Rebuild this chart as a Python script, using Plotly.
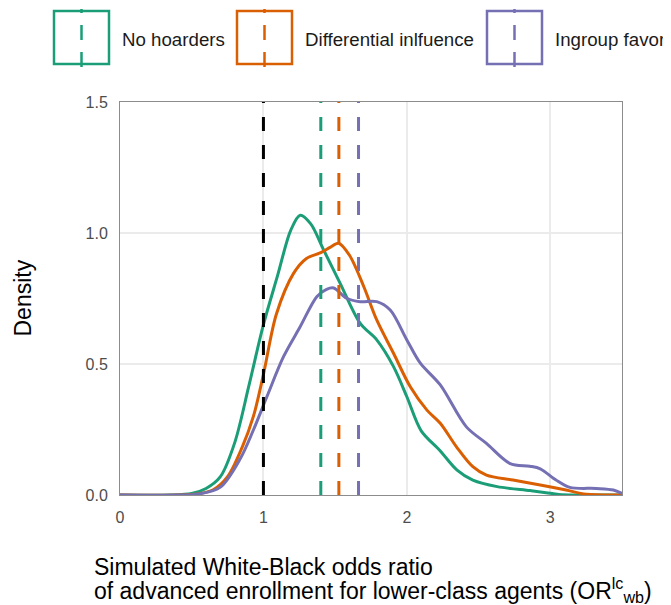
import plotly.graph_objects as go

# ---------------- data ----------------
series_names = ["No hoarders", "Differential inlfuence", "Ingroup favoritism"]
series_colors = ["#1b9e77", "#d95f02", "#7570b3"]

green_x = [0, 0.35, 0.5, 0.6, 0.7, 0.8, 0.9, 1.0, 1.1, 1.19, 1.256, 1.33, 1.42, 1.535,
           1.675, 1.79, 1.907, 2.0, 2.1, 2.23, 2.35, 2.46, 2.63, 2.86, 2.97, 3.06, 3.2, 3.5]
green_y = [0, 0.0, 0.006, 0.025, 0.07, 0.2, 0.42, 0.65, 0.84, 1.01, 1.068, 1.035, 0.935, 0.808,
           0.655, 0.592, 0.49, 0.375, 0.245, 0.17, 0.095, 0.057, 0.032, 0.017, 0.009, 0.002, 0.0, 0.0]

orange_x = [0, 0.4, 0.55, 0.65, 0.75, 0.85, 0.93, 1.0, 1.09, 1.21, 1.3, 1.4, 1.465, 1.524,
            1.6, 1.7, 1.79, 1.907, 2.024, 2.14, 2.233, 2.346, 2.46, 2.555, 2.74, 2.93, 3.11, 3.25, 3.5]
orange_y = [0, 0.0, 0.005, 0.02, 0.07, 0.18, 0.3, 0.46, 0.69, 0.846, 0.903, 0.925, 0.945, 0.961,
            0.915, 0.795, 0.668, 0.541, 0.413, 0.324, 0.274, 0.184, 0.108, 0.076, 0.057, 0.038, 0.019, 0.003, 0.0]

purple_x = [0, 0.4, 0.55, 0.7, 0.84, 0.93, 1.024, 1.14, 1.256, 1.372, 1.44, 1.49, 1.58, 1.675,
            1.79, 1.884, 2.0, 2.094, 2.233, 2.415, 2.555, 2.72, 2.857, 2.93, 3.04, 3.136, 3.32, 3.44, 3.5]
purple_y = [0, 0.0, 0.004, 0.03, 0.14, 0.248, 0.375, 0.528, 0.642, 0.757, 0.785, 0.79, 0.751, 0.738,
            0.738, 0.706, 0.592, 0.503, 0.42, 0.26, 0.197, 0.12, 0.11, 0.10, 0.057, 0.029, 0.025, 0.019, 0.006]

series_x = [green_x, orange_x, purple_x]
series_y = [green_y, orange_y, purple_y]

reference_line = 1.0
series_means = [1.40, 1.526, 1.663]

x_ticks = [0, 1, 2, 3]
x_ticklabels = ["0", "1", "2", "3"]
y_ticks = [0.0, 0.5, 1.0, 1.5]
y_ticklabels = ["0.0", "0.5", "1.0", "1.5"]

FONT = "Liberation Sans, Arial, sans-serif"

# ---------------- figure ----------------
# the page body adds an 8px margin, so the figure is shrunk and shifted by 8px
OFF = 8
W, H = 671 - OFF, 605 - OFF
PLOT_L, PLOT_T, PLOT_R, PLOT_B = 120, 102, 622, 495   # target pixel box in the window
ML, MT = PLOT_L - OFF, PLOT_T - OFF
MR, MB = 671 - PLOT_R, 605 - PLOT_B
PW, PH = PLOT_R - PLOT_L, PLOT_B - PLOT_T


def px2paper_x(px):
    return (px - PLOT_L) / PW


def px2paper_y(py):
    return (PLOT_B - py) / PH


fig = go.Figure()

for name, xs, ys, col in zip(series_names, series_x, series_y, series_colors):
    fig.add_trace(go.Scatter(x=xs, y=ys, mode="lines", name=name,
                             line=dict(color=col, width=3, shape="spline", smoothing=0.9),
                             showlegend=False, hoverinfo="skip"))

# vertical reference + mean lines
fig.add_trace(go.Scatter(x=[reference_line, reference_line], y=[0, 1.5], mode="lines",
                         line=dict(color="black", width=3, dash="14px,14px"),
                         showlegend=False, hoverinfo="skip"))
for m, col in zip(series_means, series_colors):
    fig.add_trace(go.Scatter(x=[m, m], y=[0, 1.5], mode="lines",
                             line=dict(color=col, width=3, dash="14px,14px"),
                             showlegend=False, hoverinfo="skip"))

# manual legend (boxes with dashed centre lines)
legend_box_left = [54, 237, 487]
legend_text_left = [120, 303, 553]
shapes = []
annotations = []
for name, col, bl, tl in zip(series_names, series_colors, legend_box_left, legend_text_left):
    shapes.append(dict(type="rect", xref="paper", yref="paper",
                       x0=px2paper_x(bl), x1=px2paper_x(bl + 55),
                       y0=px2paper_y(64), y1=px2paper_y(11),
                       line=dict(color=col, width=2.5), fillcolor="rgba(0,0,0,0)"))
    cx = bl + 27.5
    shapes.append(dict(type="line", xref="paper", yref="paper",
                       x0=px2paper_x(cx), x1=px2paper_x(cx),
                       y0=px2paper_y(67), y1=px2paper_y(9),
                       line=dict(color=col, width=2.5, dash="15px,12px")))
    annotations.append(dict(text=name, xref="paper", yref="paper",
                            x=px2paper_x(tl), y=px2paper_y(39), xanchor="left", yanchor="middle",
                            showarrow=False, font=dict(family=FONT, size=18.7, color="#1a1a1a")))

# axis titles
annotations.append(dict(text="Density", xref="paper", yref="paper",
                        x=px2paper_x(22), y=0.5, textangle=-90, xanchor="center", yanchor="middle",
                        showarrow=False, font=dict(family=FONT, size=23, color="black")))
annotations.append(dict(text="Simulated White-Black odds ratio", xref="paper", yref="paper",
                        x=px2paper_x(92), y=px2paper_y(567), xanchor="left", yanchor="middle",
                        showarrow=False, font=dict(family=FONT, size=23, color="black")))
annotations.append(dict(text="of advanced enrollment for lower-class agents (OR<sup>lc</sup><sub>wb</sub>)",
                        xref="paper", yref="paper",
                        x=px2paper_x(92), y=px2paper_y(590), xanchor="left", yanchor="middle",
                        showarrow=False, font=dict(family=FONT, size=23, color="black")))

fig.update_layout(
    width=W, height=H,
    margin=dict(l=ML, r=MR, t=MT, b=MB, pad=0),
    plot_bgcolor="white", paper_bgcolor="white",
    shapes=shapes, annotations=annotations,
    showlegend=False,
)
fig.update_xaxes(range=[0, 3.5], tickvals=x_ticks, ticktext=x_ticklabels,
                 showgrid=True, gridcolor="#ebebeb", gridwidth=1.5,
                 showline=True, linecolor="#8c8c8c", linewidth=1, mirror=True,
                 ticks="outside", ticklen=8, tickcolor="rgba(0,0,0,0)",
                 tickfont=dict(family=FONT, size=16, color="#4d4d4d"), zeroline=False)
fig.update_yaxes(range=[0, 1.5], tickvals=y_ticks, ticktext=y_ticklabels,
                 showgrid=True, gridcolor="#ebebeb", gridwidth=1.5,
                 showline=True, linecolor="#8c8c8c", linewidth=1, mirror=True,
                 ticks="outside", ticklen=8, tickcolor="rgba(0,0,0,0)",
                 tickfont=dict(family=FONT, size=16, color="#4d4d4d"), zeroline=False)

fig.write_html("out.html")
